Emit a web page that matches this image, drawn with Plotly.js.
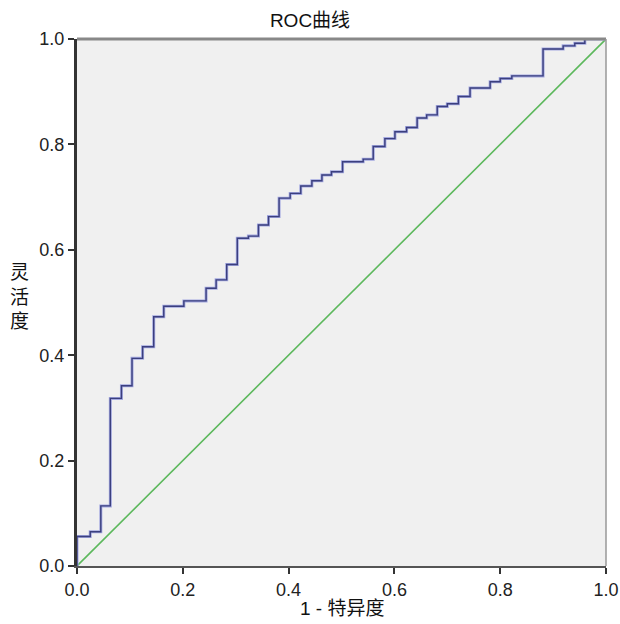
<!DOCTYPE html>
<html>
<head>
<meta charset="utf-8">
<script src="https://cdn.plot.ly/plotly-3.0.1.min.js"></script>
<style>html,body{margin:0;padding:0;background:#fff;}</style>
</head>
<body>
<div id="chart" style="width:620px;height:624px;"></div>
<script>
// 1 - specificity (false positive rate) at each step
const fpr = [0, 0, 0.025, 0.045, 0.063, 0.084, 0.104, 0.124, 0.145, 0.164, 0.202, 0.244, 0.263, 0.283, 0.303, 0.324, 0.343, 0.362, 0.382, 0.403, 0.423, 0.444, 0.463, 0.481, 0.502, 0.541, 0.560, 0.582, 0.601, 0.623, 0.643, 0.661, 0.681, 0.700, 0.721, 0.743, 0.781, 0.800, 0.822, 0.881, 0.919, 0.941, 0.960, 1.0];
// sensitivity at each step
const tpr = [0, 0.056, 0.065, 0.114, 0.318, 0.342, 0.394, 0.416, 0.473, 0.493, 0.503, 0.527, 0.543, 0.572, 0.622, 0.626, 0.647, 0.663, 0.698, 0.707, 0.721, 0.731, 0.742, 0.748, 0.767, 0.772, 0.796, 0.811, 0.824, 0.832, 0.850, 0.856, 0.872, 0.877, 0.891, 0.907, 0.919, 0.925, 0.930, 0.981, 0.987, 0.992, 1.0, 1.0];
// reference diagonal
const refX = [0, 1];
const refY = [0, 1];
const tickVals = [0, 0.2, 0.4, 0.6, 0.8, 1.0];
const tickText = ['0.0', '0.2', '0.4', '0.6', '0.8', '1.0'];

const FONT = 'Liberation Sans, Arial, Noto Sans CJK SC, sans-serif';

const traces = [
  {x: refX, y: refY, mode: 'lines', line: {color: '#5cb85c', width: 1.6}, hoverinfo: 'skip', showlegend: false},
  {x: fpr, y: tpr, mode: 'lines', line: {shape: 'hv', color: '#a3a8e0', width: 3}, hoverinfo: 'skip', showlegend: false},
  {x: fpr, y: tpr, mode: 'lines', line: {shape: 'hv', color: '#3b3f7e', width: 1.4}, showlegend: false}
];

const axisCommon = {
  range: [0, 1],
  tickvals: tickVals,
  ticktext: tickText,
  ticks: 'outside',
  ticklen: 6,
  tickwidth: 2,
  tickcolor: '#333',
  showgrid: false,
  zeroline: false,
  showline: true,
  linecolor: '#444',
  linewidth: 2.5,
  tickfont: {family: FONT, size: 18, color: '#222'},
  fixedrange: true
};

const layout = {
  width: 620,
  height: 624,
  margin: {l: 77, r: 14, t: 39, b: 58},
  paper_bgcolor: '#ffffff',
  plot_bgcolor: '#f0f0f0',
  font: {family: FONT, color: '#222'},
  title: {text: 'ROC曲线', font: {family: FONT, size: 19, color: '#111'}, x: 0.5, xanchor: 'center', y: 0.968, yanchor: 'middle'},
  xaxis: Object.assign({}, axisCommon, {linecolor: '#555', linewidth: 2, ticklabelstandoff: 0}),
  yaxis: Object.assign({}, axisCommon, {linecolor: '#333', linewidth: 3}),
  shapes: [
    {type: 'line', xref: 'paper', yref: 'paper', x0: 0, x1: 1, y0: 1, y1: 1, line: {color: '#888', width: 3}},
    {type: 'line', xref: 'paper', yref: 'paper', x0: 1, x1: 1, y0: 0, y1: 1, line: {color: '#999', width: 1.5}}
  ],
  annotations: [
    {text: '1 - 特异度', xref: 'paper', yref: 'paper', x: 0.5, y: -0.08, xanchor: 'center', yanchor: 'middle', showarrow: false, font: {family: FONT, size: 19, color: '#111'}},
    {text: '灵<br>活<br>度', xref: 'paper', yref: 'paper', x: -0.108, y: 0.51, xanchor: 'center', yanchor: 'middle', showarrow: false, font: {family: FONT, size: 19, color: '#111'}}
  ]
};

Plotly.newPlot('chart', traces, layout, {displayModeBar: false, staticPlot: true});
</script>
</body>
</html>
